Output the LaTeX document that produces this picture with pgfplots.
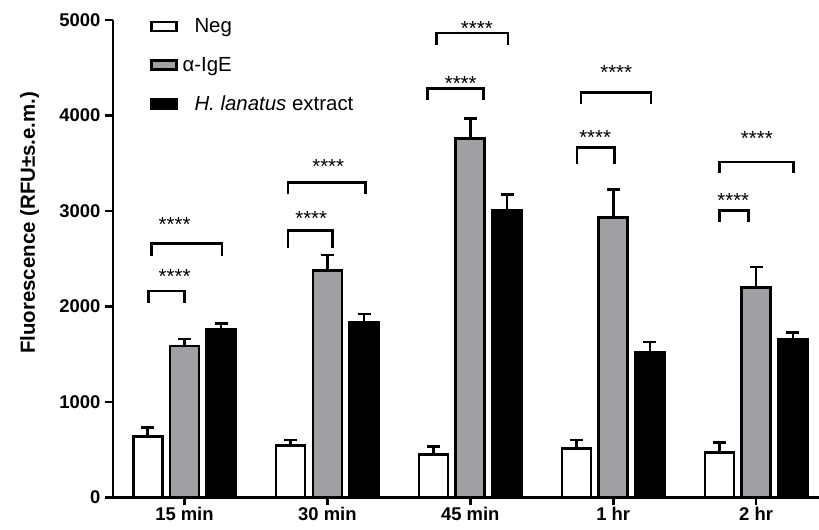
\documentclass[border=0pt]{standalone}
\usepackage{pgfplots}
\pgfplotsset{compat=1.18}
\usepackage{pgfplotstable}
\usepackage{fontspec}
\setmainfont{Liberation Sans}
\definecolor{bargray}{RGB}{160,159,164}

\pgfplotstableread{
x y e
-0.257 635 94
0.743 540 60
1.743 446 84
2.743 509 91
3.743 467 105
}\negdata
\pgfplotstableread{
x y e
0 1584 74
1 2373 164
2 3759 210
3 2932 293
4 2199 215
}\igedata
\pgfplotstableread{
x y e
0.257 1762 60
1.257 1832 87
2.257 3008 165
3.257 1521 105
4.257 1654 70
}\hldata

\pgfplotsset{
  mylegend/.style={legend image code/.code={\draw[##1, line width=2.6bp] (0bp,-4.5bp) rectangle (25bp,4.5bp); \path (#1,0bp);}},
  mybar/.style={ybar, bar width=29bp, bar shift=0pt, draw=black, line width=2.6bp,
    error bars/y dir=plus, error bars/y explicit,
    error bars/error bar style={line width=2.6bp, black},
    error bars/error mark options={rotate=90, mark size=6.5bp, line width=2.6bp, black}},
  brk/.style={line width=2.7bp, black, forget plot, mark=none},
}
\tikzset{stars/.style={font=\fontsize{20.5}{20.5}\selectfont, anchor=base, inner sep=0pt}}

\begin{document}
\begin{tikzpicture}
\begin{axis}[
  at={(0,0)}, anchor=south west,
  scale only axis, width=706bp, height=477.3bp,
  xmin=-0.5, xmax=4.44, ymin=0, ymax=5000,
  axis x line*=bottom, axis y line*=left,
  axis line style={line width=2.8bp},
  xtick={0,1,2,3,4},
  xticklabels={15 min,30 min,45 min,1 hr,2 hr},
  ytick={0,1000,2000,3000,4000,5000},
  tick align=outside,
  major tick length=8bp,
  tick style={line width=2.6bp, black},
  /pgf/number format/assume math mode=true,
  /pgf/number format/1000 sep={},
  yticklabel style={font=\bfseries\fontsize{18.5}{18.5}\selectfont, xshift=-1bp},
  xticklabel style={font=\bfseries\fontsize{18.5}{18.5}\selectfont, yshift=2bp},
  clip=false,
  legend style={at={(axis description cs:0.052,1.0073)}, anchor=north west, draw=none, fill=none,
    font=\fontsize{20.5}{24}\selectfont, row sep=19bp, inner sep=0pt,
    cells={anchor=west}},
]
\addplot[mybar, fill=white, mylegend=40bp] table[x=x, y=y, y error=e] {\negdata};
\addlegendentry{Neg}
\addplot[mybar, fill=bargray, mylegend=40bp] table[x=x, y=y, y error=e] {\igedata};
\addlegendentry{\hspace{-12bp}α-IgE}
\addplot[mybar, fill=black, mylegend=40bp] table[x=x, y=y, y error=e] {\hldata};
\addlegendentry{\textit{H. lanatus} extract}

% significance brackets
\addplot[brk] coordinates {(-0.252,2031) (-0.252,2160) (0,2160) (0,2031)};
\addplot[brk] coordinates {(-0.233,2527) (-0.233,2660) (0.262,2660) (0.262,2527)};
\addplot[brk] coordinates {(0.724,2611) (0.724,2794) (1.038,2794) (1.038,2611)};
\addplot[brk] coordinates {(0.724,3173) (0.724,3298) (1.265,3298) (1.265,3173)};
\addplot[brk] coordinates {(1.700,4160) (1.700,4283) (2.092,4283) (2.092,4160)};
\addplot[brk] coordinates {(1.766,4736) (1.766,4865) (2.263,4865) (2.263,4736)};
\addplot[brk] coordinates {(2.746,3487) (2.746,3661) (3.007,3661) (3.007,3487)};
\addplot[brk] coordinates {(2.774,4119) (2.774,4241) (3.264,4241) (3.264,4119)};
\addplot[brk] coordinates {(3.744,2886) (3.744,3008) (3.947,3008) (3.947,2886)};
\addplot[brk] coordinates {(3.744,3393) (3.744,3514) (4.262,3514) (4.262,3393)};

\node[stars] at (axis cs:-0.069,2235) {****};
\node[stars] at (axis cs:-0.069,2780) {****};
\node[stars] at (axis cs:0.887,2843) {****};
\node[stars] at (axis cs:1.006,3397) {****};
\node[stars] at (axis cs:1.933,4263) {****};
\node[stars] at (axis cs:2.046,4839) {****};
\node[stars] at (axis cs:2.874,3694) {****};
\node[stars] at (axis cs:3.021,4375) {****};
\node[stars] at (axis cs:3.840,3041) {****};
\node[stars] at (axis cs:4.005,3687) {****};

\node[rotate=90, font=\bfseries\fontsize{20.5}{24}\selectfont] at (axis description cs:-0.118,0.575) {Fluorescence (RFU±s.e.m.)};
\end{axis}
\pgfresetboundingbox
\path (-113bp,-32.7bp) rectangle (706bp,497.3bp);
\end{tikzpicture}
\end{document}
